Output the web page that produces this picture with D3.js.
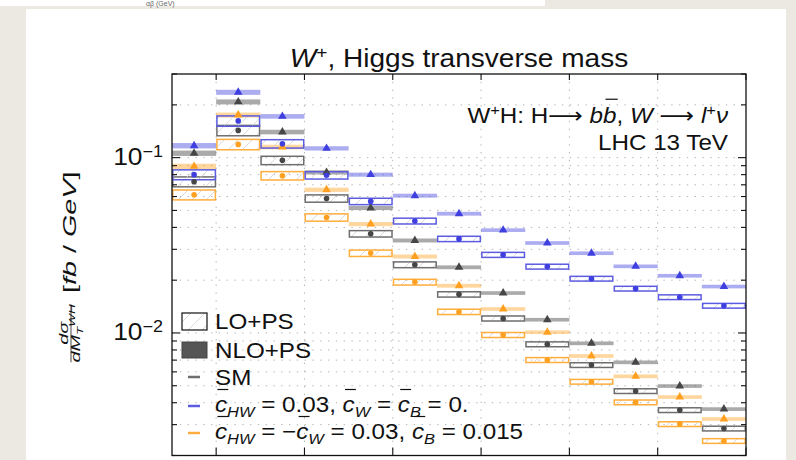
<!DOCTYPE html>
<html>
<head>
<meta charset="utf-8">
<script src="https://cdn.jsdelivr.net/npm/d3@7"></script>
<style>
  body { margin: 0; background: #ece9e3; }
  svg { display: block; font-family: "Liberation Sans", Arial, Helvetica, sans-serif; }
</style>
</head>
<body>
<div id="chart"></div>
<script>
// transverse mass bins (lower edge, GeV), all 25 GeV wide
var binLow = [175, 200, 225, 250, 275, 300, 325, 350, 375, 400, 425, 450, 475];
var binWidth = 25;
var xTicks = [200, 250, 300, 350, 400, 450, 500];

// SM
var smLO  = [0.0729, 0.143, 0.0965, 0.0585, 0.0368, 0.0245, 0.0166, 0.0121, 0.00862, 0.00656, 0.00466, 0.00363, 0.00285];
var smNLO = [0.106, 0.208, 0.140, 0.0824, 0.0516, 0.0337, 0.0237, 0.0169, 0.0119, 0.00873, 0.00680, 0.00498, 0.00368];
// cHW = 0.03, cW = cB = 0
var hwLO  = [0.0800, 0.162, 0.120, 0.0793, 0.0563, 0.0435, 0.0344, 0.0279, 0.0239, 0.0204, 0.0179, 0.0160, 0.0143];
var hwNLO = [0.117, 0.236, 0.172, 0.113, 0.0800, 0.0607, 0.0479, 0.0386, 0.0326, 0.0285, 0.0240, 0.0212, 0.0184];
// cHW = -cW = 0.03, cB = 0.015
var wbLO  = [0.0614, 0.119, 0.0789, 0.0456, 0.0285, 0.0195, 0.0132, 0.00974, 0.00701, 0.00527, 0.00402, 0.00302, 0.00242];
var wbNLO = [0.0892, 0.175, 0.115, 0.0656, 0.0418, 0.0273, 0.0186, 0.0137, 0.0101, 0.00739, 0.00566, 0.00431, 0.00323];

// relative half-widths of the scale-uncertainty bands
var loErr  = [0.065, 0.068, 0.055, 0.048, 0.042, 0.038, 0.035, 0.033, 0.032, 0.031, 0.031, 0.031, 0.031];
var nloErr = [0.035, 0.033, 0.030, 0.028, 0.027, 0.026, 0.025, 0.024, 0.024, 0.024, 0.024, 0.024, 0.024];

var W = 796, H = 460;
var SX = 1.1; // the picture's text is a bit wide

var svg = d3.select("#chart").append("svg")
    .attr("width", W)
    .attr("height", H);

// white panels on the marble background
svg.append("rect").attr("x", 0).attr("y", 0).attr("width", 545).attr("height", 6).attr("fill", "#fff");
svg.append("rect").attr("x", 26).attr("y", 9).attr("width", 760).attr("height", H).attr("fill", "#fff");
svg.append("text").attr("x", 146).attr("y", 5.5).attr("font-size", 7).attr("fill", "#666")
    .text("αβ (GeV)");

var x = d3.scaleLinear().domain([175, 500]).range([172, 746]);
var y = d3.scaleLog().domain([0.002, 0.3]).range([455.5, 74]);
var yTicks = y.ticks();

var defs = svg.append("defs");
defs.append("clipPath").attr("id", "plotclip")
  .append("rect")
    .attr("x", x.range()[0]).attr("y", y.range()[1])
    .attr("width", x.range()[1] - x.range()[0])
    .attr("height", y.range()[0] - y.range()[1]);

var hatch = defs.append("pattern")
    .attr("id", "hatch")
    .attr("patternUnits", "userSpaceOnUse")
    .attr("width", 14).attr("height", 14);
hatch.append("path")
    .attr("d", "M-1,15 L15,-1")
    .attr("stroke", "#cfcfcf")
    .attr("stroke-width", 0.8);

var plot = svg.append("g").attr("clip-path", "url(#plotclip)");

// dotted grid
plot.selectAll(".vgrid")
  .data(xTicks.filter(function(d) { return d < 500; }))
  .enter().append("line")
    .attr("x1", x).attr("x2", x)
    .attr("y1", y.range()[1]).attr("y2", y.range()[0])
    .attr("stroke", "#b5b5b5")
    .attr("stroke-dasharray", "1.4,6.4");
plot.selectAll(".hgrid")
  .data(yTicks.filter(function(d) { return d > 0.0021 && d < 0.29; }))
  .enter().append("line")
    .attr("x1", x.range()[0]).attr("x2", x.range()[1])
    .attr("y1", y).attr("y2", y)
    .attr("stroke", "#b5b5b5")
    .attr("stroke-dasharray", "1.4,6.4");

var series = [
  {lo: smLO, nlo: smNLO, line: "#6e6e6e", band: "rgba(85,85,85,0.5)",  mark: "#464646"},
  {lo: wbLO, nlo: wbNLO, line: "#ffad3d", band: "rgba(255,165,40,0.45)", mark: "#ffa020"},
  {lo: hwLO, nlo: hwNLO, line: "#5c5ce0", band: "rgba(90,90,225,0.5)",  mark: "#3f3fe0"}
];

function rows(s) {
  return binLow.map(function(b, i) {
    return {x0: b, x1: b + binWidth, lo: s.lo[i], nlo: s.nlo[i], el: loErr[i], en: nloErr[i]};
  });
}

// NLO+PS bands
series.forEach(function(s) {
  plot.append("g").selectAll("rect")
    .data(rows(s))
    .enter().append("rect")
      .attr("x", function(d) { return x(d.x0); })
      .attr("width", function(d) { return x(d.x1) - x(d.x0); })
      .attr("y", function(d) { return y(d.nlo * (1 + d.en)); })
      .attr("height", function(d) { return y(d.nlo * (1 - d.en)) - y(d.nlo * (1 + d.en)); })
      .attr("fill", s.band);
});

// LO+PS boxes
series.forEach(function(s) {
  plot.append("g").selectAll("rect")
    .data(rows(s))
    .enter().append("rect")
      .attr("x", function(d) { return x(d.x0) + 0.75; })
      .attr("width", function(d) { return x(d.x1) - x(d.x0) - 1.5; })
      .attr("y", function(d) { return y(d.lo * (1 + d.el)); })
      .attr("height", function(d) { return y(d.lo * (1 - d.el)) - y(d.lo * (1 + d.el)); })
      .attr("fill", "url(#hatch)")
      .attr("stroke", s.line)
      .attr("stroke-width", 1.5);
});

// markers: circles for LO, triangles for NLO
var tri = d3.symbol().type(d3.symbolTriangle).size(32);
series.forEach(function(s) {
  var g = plot.append("g");
  g.selectAll("circle")
    .data(rows(s))
    .enter().append("circle")
      .attr("cx", function(d) { return x(d.x0 + binWidth / 2); })
      .attr("cy", function(d) { return y(d.lo); })
      .attr("r", 2.8)
      .attr("fill", s.mark);
  g.selectAll("path")
    .data(rows(s))
    .enter().append("path")
      .attr("d", tri)
      .attr("transform", function(d) { return "translate(" + x(d.x0 + binWidth / 2) + "," + y(d.nlo) + ")"; })
      .attr("fill", s.mark);
});

// frame and inward ticks
svg.append("rect")
    .attr("x", x.range()[0]).attr("y", y.range()[1])
    .attr("width", x.range()[1] - x.range()[0])
    .attr("height", y.range()[0] - y.range()[1])
    .attr("fill", "none")
    .attr("stroke", "#111")
    .attr("stroke-width", 1.3);

function isMajor(d) { return Math.abs(Math.log10(d) - Math.round(Math.log10(d))) < 1e-6; }

var ticks = svg.append("g").attr("stroke", "#111").attr("stroke-width", 1.1);
ticks.selectAll(".yl").data(yTicks).enter().append("line")
    .attr("x1", x.range()[0]).attr("x2", function(d) { return x.range()[0] + (isMajor(d) ? 8 : 5); })
    .attr("y1", y).attr("y2", y);
ticks.selectAll(".yr").data(yTicks).enter().append("line")
    .attr("x1", x.range()[1]).attr("x2", function(d) { return x.range()[1] - (isMajor(d) ? 8 : 5); })
    .attr("y1", y).attr("y2", y);
ticks.selectAll(".xt").data(xTicks).enter().append("line")
    .attr("x1", x).attr("x2", x)
    .attr("y1", y.range()[1]).attr("y2", y.range()[1] + 6);
ticks.selectAll(".xb").data(xTicks).enter().append("line")
    .attr("x1", x).attr("x2", x)
    .attr("y1", y.range()[0]).attr("y2", y.range()[0] - 8);

// text with italics, sub/superscripts and over-bars
function rich(parent, transform, segs, size, anchor) {
  var g = parent.append("g").attr("transform", transform);
  var t = g.append("text")
      .attr("font-size", size)
      .attr("text-anchor", anchor || "start")
      .attr("fill", "#111");
  var shift = 0, idx = 0, bars = [];
  segs.forEach(function(s) {
    if (typeof s === "string") s = {t: s};
    var sh = s.sup ? -0.36 * size : (s.sub ? 0.24 * size : 0);
    var ts = t.append("tspan").attr("dy", sh - shift).text(s.t);
    shift = sh;
    if (s.sup || s.sub) ts.attr("font-size", size * 0.68);
    if (s.it) ts.attr("font-style", "italic");
    if (s.font) ts.attr("font-family", s.font);
    if (s.bar) bars.push([idx, idx + s.t.length - 1, s.bar]);
    idx += s.t.length;
  });
  bars.forEach(function(b) {
    var n = t.node();
    var a = n.getStartPositionOfChar(b[0]).x, e = n.getEndPositionOfChar(b[1]).x;
    g.append("line")
      .attr("x1", a + 0.1 * size).attr("x2", e + 0.05 * size)
      .attr("y1", -b[2] * size).attr("y2", -b[2] * size)
      .attr("stroke", "#111").attr("stroke-width", 1.2);
  });
  return g;
}
function at(px, py) { return "translate(" + px + "," + py + ") scale(" + SX + ",1)"; }

// title
rich(svg, at(459, 67), [{t: "W", it: 1}, {t: "+", sup: 1}, ", Higgs transverse mass"], 25.5, "middle");

// y tick labels
yTicks.filter(isMajor).forEach(function(d) {
  rich(svg, at(163, y(d) + 7.5), ["10", {t: "\u2212" + (-Math.round(Math.log10(d))), sup: 1}], 24, "end");
});

// process annotation
var arrow = {t: "\u27f6", font: "DejaVu Sans"};
rich(svg, at(728, 123), ["W", {t: "+", sup: 1}, "H: H", arrow, " ", {t: "b", it: 1}, {t: "b", it: 1, bar: 1.08},
  ", ", {t: "W", it: 1}, " ", arrow, " ", {t: "l", it: 1}, {t: "+", sup: 1}, {t: "\u03bd", it: 1}], 22, "end");
rich(svg, at(728, 150), ["LHC 13 TeV"], 22, "end");

// y-axis label, drawn long and narrow as in the picture
var yl = svg.append("g").attr("transform", "translate(71,265) scale(1.1,1.8) rotate(-90)");
rich(yl, "translate(-38,-2.5)", [{t: "d\u03c3", it: 1}], 11, "middle");
yl.append("line").attr("x1", -54).attr("x2", -22).attr("y1", 0).attr("y2", 0)
    .attr("stroke", "#111").attr("stroke-width", 0.7);
rich(yl, "translate(-38,8)", [{t: "dM", it: 1}, {t: "T", it: 1, sub: 1}, {t: "WH", it: 1, sup: 1}], 11, "middle");
rich(yl, "translate(-15.6,4.5)", ["[", {t: "fb", it: 1}, " / ", {t: "GeV", it: 1}, "]"], 16, "start");

// legend
var lg = svg.append("g");
lg.append("rect").attr("x", 182).attr("y", 313).attr("width", 25).attr("height", 17)
    .attr("fill", "url(#hatch)").attr("stroke", "#111").attr("stroke-width", 1.2);
lg.append("rect").attr("x", 182).attr("y", 342).attr("width", 25).attr("height", 16)
    .attr("fill", "#555").attr("stroke", "#444").attr("stroke-width", 1);
[["#6e6e6e", 377], ["#5c5ce0", 406], ["#ffad3d", 433]].forEach(function(l) {
  lg.append("line").attr("x1", 188).attr("x2", 200).attr("y1", l[1]).attr("y2", l[1])
    .attr("stroke", l[0]).attr("stroke-width", 2.5);
});
rich(lg, at(215, 329), ["LO+PS"], 22);
rich(lg, at(215, 357.5), ["NLO+PS"], 22);
rich(lg, at(215, 385), ["SM"], 22);
rich(lg, at(215, 411.5), [{t: "c", it: 1, bar: 1.0}, {t: "HW", it: 1, sub: 1}, " = 0.03, ",
  {t: "c", it: 1, bar: 1.0}, {t: "W", it: 1, sub: 1}, " = ", {t: "c", it: 1, bar: 1.0}, {t: "B", it: 1, sub: 1}, " = 0."], 22);
rich(lg, at(215, 438.5), [{t: "c", it: 1, bar: 1.0}, {t: "HW", it: 1, sub: 1}, " = \u2212",
  {t: "c", it: 1, bar: 1.0}, {t: "W", it: 1, sub: 1}, " = 0.03, ", {t: "c", it: 1, bar: 1.0}, {t: "B", it: 1, sub: 1}, " = 0.015"], 22);
</script>
</body>
</html>
